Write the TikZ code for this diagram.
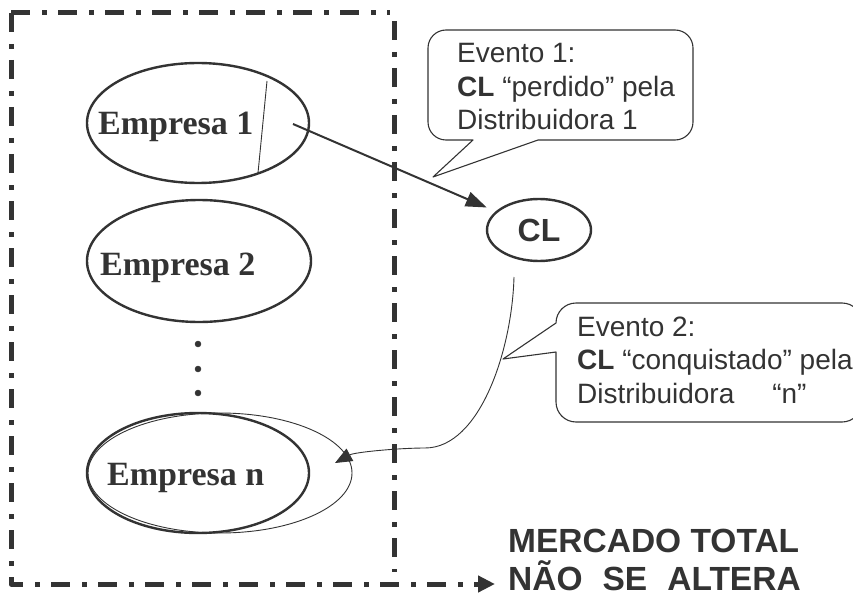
\documentclass[tikz,border=0pt]{standalone}
\usepackage{fontspec}
\setmainfont{Liberation Serif}
\setsansfont{Liberation Sans}
\usetikzlibrary{shapes,arrows.meta,calc,positioning}

\definecolor{ink}{gray}{0.2}

\begin{document}
\begin{tikzpicture}[x=1pt, y=-1pt, color=ink, line join=round,
  firm/.style={ellipse, draw=ink, line width=2.4pt, inner sep=0pt, outer sep=0pt},
  empresa/.style={anchor=base west, inner sep=0pt, font=\bfseries\fontsize{34}{38}\selectfont},
  evento/.style={anchor=base west, align=left, inner sep=0pt, font=\sffamily\fontsize{28}{33.5}\selectfont},
  mercado/.style={anchor=base west, inner sep=0pt, font=\sffamily\bfseries\fontsize{33.5}{38}\selectfont},
  dot/.style={circle, draw=ink, fill=ink, minimum size=6pt, inner sep=0pt, outer sep=0pt},
  frame/.style={line width=5pt, dash pattern=on 19pt off 12pt on 5pt off 11pt},
  balloon/.style={draw=ink, line width=1.1pt}]
  \useasboundingbox (0,0) rectangle (853,596);

  % empresas
  \node[firm, minimum width=222pt, minimum height=120pt] (e1) at (198,123) {};
  \node[firm, minimum width=224pt, minimum height=122pt] (e2) at (199,261) {};
  \node[firm, minimum width=222pt, minimum height=120pt] (en) at (198,473) {};
  \node[ellipse, draw=ink, line width=0.9pt, minimum width=264pt, minimum height=120pt] (en2) at (220,473) {};
  \node[empresa] (t1) at (98,135) {Empresa 1};
  \node[empresa] (t2) at (100,275) {Empresa 2};
  \node[empresa] (tn) at (107,485) {Empresa n};
  \draw[line width=0.9pt] (267,81) -- (258,173);

  \foreach \y/\n in {344/1, 369/2, 393/3}
    \node[dot] (d\n) at (198,\y) {};

  % cliente
  \node[firm, minimum width=104pt, minimum height=62pt, font=\sffamily\bfseries\fontsize{32}{36}\selectfont] (cl) at (539,230) {CL};

  \coordinate (p1) at (293,124);
  \draw[line width=2pt, -{Triangle[length=21pt,width=15pt]}, shorten >=11pt] (p1) -- (cl);

  \coordinate (s0) at (514,277);
  \coordinate (tipn) at (335,463);
  \draw[line width=0.9pt, -{Triangle[length=17pt,width=14pt]}] (s0) .. controls (512,350) and (480,448) .. (425,448)
    .. controls (400,448) and (355,452) .. (tipn);

  % eventos
  \coordinate (b1) at (433,177);
  \draw[balloon] (473,140) -- (b1) -- (538,140) [rounded corners=18pt] -- (693,140) -- (693,30) -- (428,30) -- (428,140) [sharp corners] -- cycle;
  \node[evento] (ev1) at (457,130) {Evento 1:\\\textbf{CL} “perdido” pela\\Distribuidora 1};

  \coordinate (b2) at (503,359);
  \draw[balloon] (556,323) -- (b2) -- (556,352) [rounded corners=20pt] -- (556,422) -- (862,422) -- (862,303) -- (556,303) [sharp corners] -- cycle;
  \node[evento] (ev2) at (577,403) {Evento 2:\\\textbf{CL} “conquistado” pela\\Distribuidora\hspace{38pt}“n”};

  % mercado total
  \node[mercado] (mt1) at (508,552) {MERCADO TOTAL};
  \node[mercado] (mt2) at (508,590) {NÃO\hspace{20pt}SE\hspace{20pt}ALTERA};

  \coordinate (tl) at (11,13);
  \coordinate (tr) at (390,13);
  \coordinate (bl) at (11,584);
  \draw[frame] (tl) -- (tr);
  \draw[frame] (394,21) -- (394,572);
  \draw[frame, -{Triangle[length=17pt,width=16pt]}, shorten >=13pt] (tl) -- (bl) -- (bl -| mt2.west);
\end{tikzpicture}
\end{document}
